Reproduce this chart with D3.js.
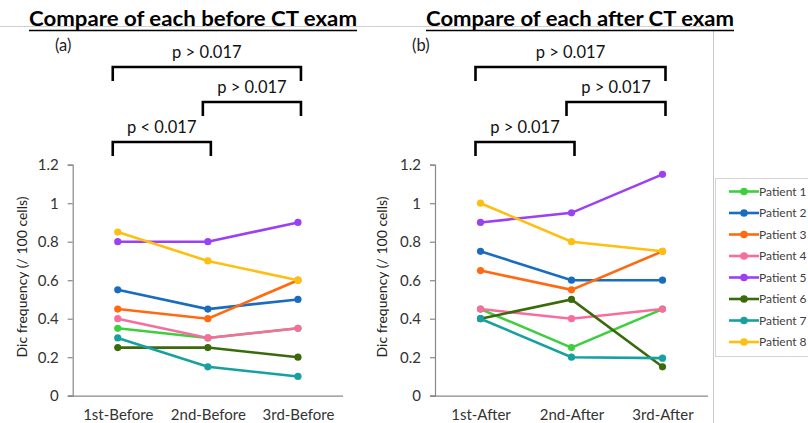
<!DOCTYPE html>
<meta charset="utf-8">
<style>
body { margin: 0; background: #fff; }
svg { font-family: Lato, "Open Sans", sans-serif; }
.tick text { fill: #333; font-family: Lato, sans-serif; font-size: 15px; }
.legend text { fill: #404040; font-size: 12px; }
</style>
<body>
<svg id="chart" width="808" height="423"></svg>
<script src="https://d3js.org/d3.v7.min.js"></script>
<script>

var patients = ["Patient 1","Patient 2","Patient 3","Patient 4","Patient 5","Patient 6","Patient 7","Patient 8"];
var colors = ["#3ecf3e","#1a6dbe","#ff6a10","#f76d9e","#9a40f5","#3b6a0c","#16a0a0","#ffbf10"];

var beforeLabels = ["1st-Before","2nd-Before","3rd-Before"];
var afterLabels = ["1st-After","2nd-After","3rd-After"];

var before = [
  [0.35, 0.30, 0.35],
  [0.55, 0.45, 0.50],
  [0.45, 0.40, 0.60],
  [0.40, 0.30, 0.35],
  [0.80, 0.80, 0.90],
  [0.25, 0.25, 0.20],
  [0.30, 0.15, 0.10],
  [0.85, 0.70, 0.60]
];
var after = [
  [0.45, 0.25, 0.45],
  [0.75, 0.60, 0.60],
  [0.65, 0.55, 0.75],
  [0.45, 0.40, 0.45],
  [0.90, 0.95, 1.15],
  [0.40, 0.50, 0.15],
  [0.40, 0.20, 0.195],
  [1.00, 0.80, 0.75]
];

var yTicks = [0, 0.2, 0.4, 0.6, 0.8, 1, 1.2];

// comparisons: [from index, to index, label]
var compBefore = [[0, 2, "p > 0.017"], [1, 2, "p > 0.017"], [0, 1, "p < 0.017"]];
var compAfter = [[0, 2, "p > 0.017"], [1, 2, "p > 0.017"], [0, 1, "p > 0.017"]];

var svg = d3.select("#chart");

// faint frame lines
svg.append("line").attr("x1", 0).attr("x2", 713).attr("y1", 26.5).attr("y2", 26.5)
  .attr("stroke", "#d0d0d0").attr("stroke-width", 1);
svg.append("line").attr("x1", 713.5).attr("x2", 713.5).attr("y1", 30).attr("y2", 423)
  .attr("stroke", "#c8c8c8").attr("stroke-width", 1);

var y = d3.scaleLinear().domain([0, 1.2]).range([395.7, 164.7]);

function panel(opt) {
  var g = svg.append("g");
  var x = d3.scalePoint().domain(opt.labels).range([opt.left, opt.right]).padding(0.5);

  // title
  g.append("text")
    .attr("x", opt.titleX).attr("y", 26)
    .attr("font-weight", "bold").attr("font-size", 21).attr("fill", "#000")
    .attr("textLength", opt.titleW).attr("lengthAdjust", "spacingAndGlyphs")
    .text(opt.title);
  g.append("line").attr("x1", opt.titleX).attr("x2", opt.titleX + opt.titleW)
    .attr("y1", 30.5).attr("y2", 30.5).attr("stroke", "#000").attr("stroke-width", 1.6);

  g.append("text").attr("x", opt.tagX).attr("y", 51).attr("font-size", 16.5).attr("fill", "#222")
    .text(opt.tag);

  // brackets
  var levels = [67, 102, 142];
  opt.comps.forEach(function(c, i) {
    var x1 = x(opt.labels[c[0]]) - 5, x2 = x(opt.labels[c[1]]) + 3;
    var yy = levels[i];
    g.append("path")
      .attr("d", "M" + x1 + "," + (yy + 14) + "V" + yy + "H" + x2 + "V" + (yy + 14))
      .attr("fill", "none").attr("stroke", "#000").attr("stroke-width", 2.6);
    g.append("text").attr("x", (x1 + x2) / 2).attr("y", yy - 9)
      .attr("text-anchor", "middle").attr("font-size", 16.5).attr("fill", "#111")
      .text(c[2]);
  });

  // axes
  var ya = g.append("g").attr("transform", "translate(" + opt.left + ",0)")
    .call(d3.axisLeft(y).tickValues(yTicks).tickSize(5).tickPadding(9).tickFormat(d3.format("")));
  var xa = g.append("g").attr("transform", "translate(0," + y(0) + ")")
    .call(d3.axisBottom(x).tickSize(0).tickPadding(14));
  [ya, xa].forEach(function(a) {
    a.selectAll("path,line").attr("stroke", "#888").attr("stroke-width", 1.2);
  });
  xa.select(".domain").attr("d", "M" + (opt.left - 4) + ",0.5H" + opt.right);

  g.append("text")
    .attr("transform", "translate(" + opt.titleYX + "," + 277 + ") rotate(-90)")
    .attr("text-anchor", "middle").attr("font-size", 14).attr("fill", "#222")
    .text("Dic frequency (/ 100 cells)");

  // series
  var line = d3.line().x(function(d, i) { return x(opt.labels[i]); }).y(function(d) { return y(d); });
  opt.data.forEach(function(vals, k) {
    g.append("path").datum(vals).attr("d", line)
      .attr("fill", "none").attr("stroke", colors[k]).attr("stroke-width", 2.6);
    g.selectAll(null).data(vals).enter().append("circle")
      .attr("cx", function(d, i) { return x(opt.labels[i]); })
      .attr("cy", function(d) { return y(d); })
      .attr("r", 3.6).attr("fill", colors[k]);
  });
}

panel({ labels: beforeLabels, data: before, comps: compBefore, left: 72.7, right: 343,
  title: "Compare of each before CT exam", titleX: 29, titleW: 328, tag: "(a)", tagX: 55, titleYX: 27 });
panel({ labels: afterLabels, data: after, comps: compAfter, left: 435, right: 708,
  title: "Compare of each after CT exam", titleX: 426, titleW: 308, tag: "(b)", tagX: 412, titleYX: 387 });

// legend
var lg = svg.append("g").attr("class", "legend");
lg.append("rect").attr("x", 715.5).attr("y", 178.5).attr("width", 100).attr("height", 178)
  .attr("fill", "#fff").attr("stroke", "#d4d4d4");
var ly = d3.scalePoint().domain(patients).range([191.5, 342]);
patients.forEach(function(p, k) {
  var row = lg.append("g").attr("transform", "translate(0," + ly(p) + ")");
  row.append("line").attr("x1", 729).attr("x2", 759).attr("stroke", colors[k]).attr("stroke-width", 2.6);
  row.append("circle").attr("cx", 744).attr("r", 3.8).attr("fill", colors[k]);
  row.append("text").attr("x", 759).attr("dy", "0.35em").text(p);
});

</script>
</body>
